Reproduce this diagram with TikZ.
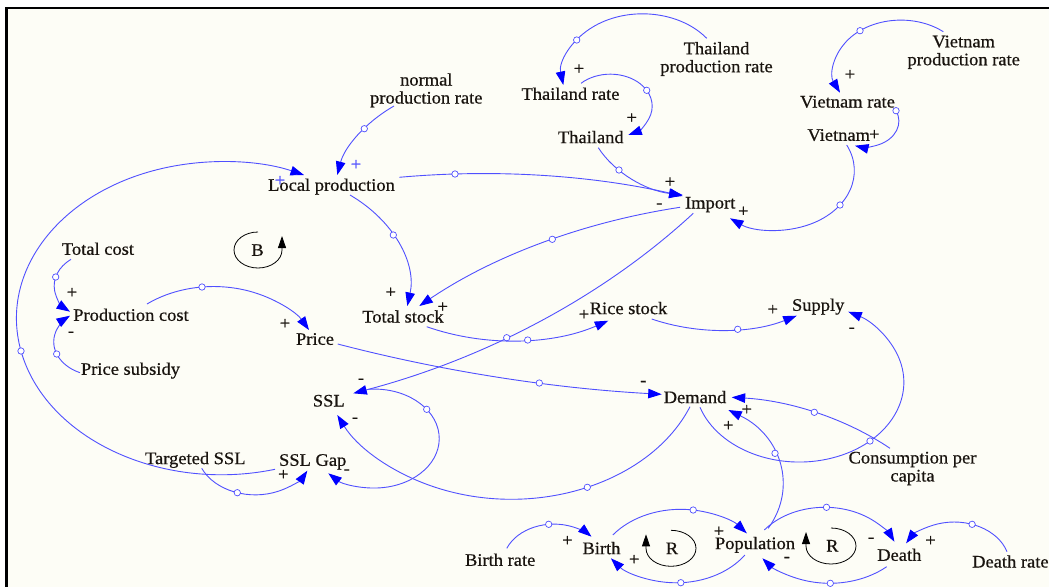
\documentclass[tikz,border=0pt]{standalone}
\usepackage{fontspec}
\setmainfont{Liberation Serif}[FakeStretch=1.05,FakeBold=0.6]
\usetikzlibrary{calc,arrows.meta}
\definecolor{linkc}{RGB}{80,80,255}
\definecolor{arrowc}{RGB}{0,0,255}
\definecolor{txtc}{RGB}{25,20,15}
\definecolor{bgc}{RGB}{253,253,246}
\newcommand\lblfont{\fontsize{17.6pt}{18pt}\selectfont}
\makeatletter
\newcommand\vgetxy[3]{\pgfpointanchor{#1}{center}\edef#2{\strip@pt\pgf@x}\edef#3{\strip@pt\pgf@y}}
\makeatother
\def\vk{1.31}
% circular arc (in a frame stretched horizontally by \vk) through start, handle, end
\newcommand\vcalc[3]{%
  \path #1 coordinate (vA) #2 coordinate (vH) #3 coordinate (vB);
  \vgetxy{vA}\vXa\vYa\vgetxy{vH}\vXh\vYh\vgetxy{vB}\vXb\vYb
  \edef\vXa{\fpeval{(\vXa)/\vk}}%
  \edef\vXh{\fpeval{(\vXh)/\vk}}%
  \edef\vXb{\fpeval{(\vXb)/\vk}}%
  \edef\vD{\fpeval{2*((\vXa)*((\vYh)-(\vYb))+(\vXh)*((\vYb)-(\vYa))+(\vXb)*((\vYa)-(\vYh)))}}%
  \edef\vSa{\fpeval{(\vXa)^2+(\vYa)^2}}%
  \edef\vSh{\fpeval{(\vXh)^2+(\vYh)^2}}%
  \edef\vSb{\fpeval{(\vXb)^2+(\vYb)^2}}%
  \edef\vUx{\fpeval{((\vSa)*((\vYh)-(\vYb))+(\vSh)*((\vYb)-(\vYa))+(\vSb)*((\vYa)-(\vYh)))/(\vD)}}%
  \edef\vUy{\fpeval{((\vSa)*((\vXb)-(\vXh))+(\vSh)*((\vXa)-(\vXb))+(\vSb)*((\vXh)-(\vXa)))/(\vD)}}%
  \edef\vR{\fpeval{round(sqrt(((\vXa)-(\vUx))^2+((\vYa)-(\vUy))^2),3)}}%
  \edef\vRx{\fpeval{round((\vR)*\vk,3)}}%
  \edef\vAa{\fpeval{atand((\vYa)-(\vUy),(\vXa)-(\vUx))}}%
  \edef\vAb{\fpeval{atand((\vYb)-(\vUy),(\vXb)-(\vUx))}}%
  \edef\vCr{\fpeval{((\vXh)-(\vXa))*((\vYb)-(\vYa))-((\vYh)-(\vYa))*((\vXb)-(\vXa))}}%
  \edef\vDel{\fpeval{round(((\vCr)>0 ? (((\vAb)-(\vAa))-360*floor(((\vAb)-(\vAa))/360)) : (-(((\vAa)-(\vAb))-360*floor(((\vAa)-(\vAb))/360)))),3)}}%
  \edef\vAa{\fpeval{round(\vAa,3)}}%
}
\newcommand\vlinknc[3]{\vcalc{#1}{#2}{#3}%
  \draw[link] (vA) arc[start angle=\vAa, delta angle=\vDel, x radius=\vRx pt, y radius=\vR pt];}
\newcommand\vlink[3]{\vlinknc{#1}{#2}{#3}\filldraw[handlec] (vH) circle[radius=3.2pt];}
\tikzset{
  lbl/.style={text=txtc, inner sep=0pt, text height=11.6pt, text depth=0pt, font=\lblfont},
  lbltwo/.style={text=txtc, inner sep=0pt, align=center, font=\lblfont},
  pol/.style={text=txtc, inner sep=0pt, font=\lblfont},
  polb/.style={text=linkc, inner sep=0pt, font=\lblfont},
  link/.style={draw=linkc, line width=0.9pt, -{Triangle[length=13.5pt,width=9.5pt,color=arrowc]}},
  handlec/.style={draw=linkc, fill=white, line width=0.7pt},
  loopsym/.style={draw=black, line width=0.8pt, -{Triangle[length=12pt,width=8pt,color=black]}}
}
\begin{document}
\begin{tikzpicture}[x=1pt,y=-1pt]
\useasboundingbox (0,0) rectangle (1049,587);
\fill[white] (0,0) rectangle (1049,587);
\fill[bgc] (6,8) rectangle (1049,587);
\draw[black, line width=2pt] (5,8) -- (1049,8);
\draw[black, line width=3pt] (6.5,7) -- (6.5,587);

% variables
\node[lbltwo] (npr) at (426.3,90.3) {normal\\production rate};
\node[lbltwo] (tpr) at (716.5,59) {Thailand\\production rate};
\node[lbltwo] (vpr) at (963.7,52.3) {Vietnam\\production rate};
\node[lbltwo] (cpc) at (912.5,468.5) {Consumption per\\capita};
\node[lbl] (lp) at (331.5,185) {Local production};
\node[lbl] (imp) at (710.2,202.7) {Import};
\node[lbl] (trate) at (570.5,94) {Thailand rate};
\node[lbl] (thai) at (590.8,137.3) {Thailand};
\node[lbl] (vrate) at (847.5,101.7) {Vietnam rate};
\node[lbl] (viet) at (838.7,135) {Vietnam};
\node[lbl] (tcost) at (98,249) {Total cost};
\node[lbl] (pcost) at (131,315) {Production cost};
\node[lbl] (price) at (315,339) {Price};
\node[lbl] (psub) at (130.5,369) {Price subsidy};
\node[lbl] (tstock) at (403,316.7) {Total stock};
\node[lbl] (rstock) at (628.5,308.3) {Rice stock};
\node[lbl] (supply) at (818.2,305) {Supply};
\node[lbl] (demand) at (695,397.3) {Demand};
\node[lbl] (ssl) at (328.8,400.7) {SSL};
\node[lbl] (tssl) at (195.3,458.3) {Targeted SSL};
\node[lbl] (gap) at (312.7,460) {SSL Gap};
\node[lbl] (brate) at (500.2,560) {Birth rate};
\node[lbl] (birth) at (601.5,548.3) {Birth};
\node[lbl] (pop) at (755,543.3) {Population};
\node[lbl] (death) at (899.3,555) {Death};
\node[lbl] (drate) at (1010.4,561.7) {Death rate};

% loop symbols
\node[lbl] (loopB) at (257.5,250) {B};
\node[lbl] (loopR1) at (672,548.3) {R};
\node[lbl] (loopR2) at (832.3,545.7) {R};
\draw[loopsym] (258,232) arc[start angle=90, end angle=360, x radius=24pt, y radius=18pt] -- ++(0,-14);
\draw[loopsym] (671,530.3) arc[start angle=90, end angle=-180, x radius=25pt, y radius=18pt] -- ++(0,-14);
\draw[loopsym] (831,528) arc[start angle=90, end angle=-180, x radius=25pt, y radius=18pt] -- ++(0,-14);

% links
\vlink{($(npr)+(-32.3,15.7)$)}{(364.3,128.7)}{($(lp)+(5.8,-10)$)}
\vlink{($(lp)+(67.8,-7.7)$)}{(455,174)}{($(imp)+(-27.5,-6.7)$)}
\vlink{($(thai)+(7.5,10.4)$)}{(619,170)}{($(imp)+(-27.5,-7.7)$)}
\vlink{($(trate)+(10.5,-10.7)$)}{(646.7,90.3)}{($(thai)+(37.5,-2.3)$)}
\vlink{($(tpr)+(-9.8,-20.7)$)}{(576.7,40)}{($(trate)+(-7.2,-9)$)}
\vlink{($(vpr)+(-20.4,-20.6)$)}{(860,30.7)}{($(vrate)+(-7.5,-9)$)}
\vlinknc{($(vrate)+(48.5,9)$)}{(898.5,125)}{($(viet)+(16.3,10.7)$)}
\filldraw[handlec] (vA) circle[radius=3.2pt];
\vlink{($(viet)+(8,10)$)}{(840,205)}{($(imp)+(19.8,15.6)$)}
\vlink{($(lp)+(18.5,10)$)}{(393.3,235)}{($(tstock)+(4.3,-10.7)$)}
\vlink{($(imp)+(-30.2,4.6)$)}{(552.3,239.3)}{($(tstock)+(16.3,-10.7)$)}
\vlink{($(imp)+(-16.9,10.6)$)}{(506.7,337.7)}{($(ssl)+(24.5,-7.4)$)}
\vlink{($(tstock)+(23.7,10)$)}{(527.7,340)}{($(rstock)+(-20.2,12.4)$)}
\vlink{($(rstock)+(23.2,10.7)$)}{(737.7,329.3)}{($(supply)+(-21.5,10.7)$)}
\vlink{($(demand)+(5,10)$)}{(870,441)}{($(supply)+(30.1,6.7)$)}
\vlink{($(cpc)+(-22.5,-20.2)$)}{(814.3,412.3)}{($(demand)+(36.7,0)$)}
\vlink{($(pop)+(13.2,-15)$)}{(775,453.3)}{($(demand)+(33.3,12.7)$)}
\vlink{($(price)+(22.7,5)$)}{(539.3,383)}{($(demand)+(-33.3,-3)$)}
\vlink{($(demand)+(-5,9.4)$)}{(587.3,487.3)}{($(ssl)+(8.5,14.3)$)}
\vlink{($(ssl)+(39.5,-11.4)$)}{(426.7,409.3)}{($(gap)+(15.6,13.3)$)}
\vlink{($(tssl)+(6.4,10)$)}{(237.3,492.7)}{($(gap)+(-5.4,10.7)$)}
\vlink{($(gap)+(-37.7,9.3)$)}{(21,351)}{($(lp)+(-27.5,-10)$)}
\vlink{($(tcost)+(-27,10.3)$)}{(55.7,277)}{($(pcost)+(-61,-3.3)$)}
\vlink{($(psub)+(-50.5,3.7)$)}{(56.7,354)}{($(pcost)+(-61,0.7)$)}
\vlink{($(pcost)+(16,-11)$)}{(202,287)}{($(price)+(-6,-9)$)}
\vlink{($(brate)+(6.6,-11.7)$)}{(548.7,524.3)}{($(birth)+(-10,-11.6)$)}
\vlink{($(birth)+(11.3,-13.3)$)}{(693.2,510)}{($(pop)+(-8.2,-10)$)}
\vlink{($(pop)+(-10.1,11.7)$)}{(680.8,582.7)}{($(birth)+(9.4,10)$)}
\vlink{($(pop)+(9.3,-13.3)$)}{(826.5,507.3)}{($(death)+(-4.9,-13.3)$)}
\vlink{($(death)+(-12.6,11.7)$)}{(830.3,583.3)}{($(pop)+(7.4,15)$)}
\vlink{($(drate)+(-3.4,-10)$)}{(972.1,524.3)}{($(death)+(6.8,-11.7)$)}

% polarities
\node[polb] (p1) at (356,165) {+};
\node[polb] (p2) at (280,181) {+};
\node[pol] (p3) at (670,182.3) {+};
\node[pol] (p4) at (631.7,118.3) {+};
\node[pol] (p5) at (579,69.3) {+};
\node[pol] (p6) at (850,75) {+};
\node[pol] (p7) at (874.3,135) {+};
\node[pol] (p8) at (743.3,211.7) {+};
\node[pol] (p9) at (659.3,205.7) {-};
\node[pol] (p10) at (390.7,292.7) {+};
\node[pol] (p11) at (442.7,307.3) {+};
\node[pol] (p12) at (361,381) {-};
\node[pol] (p13) at (584,315) {+};
\node[pol] (p14) at (772.7,310) {+};
\node[pol] (p15) at (851.7,330) {-};
\node[pol] (p16) at (746.7,410) {+};
\node[pol] (p17) at (728.3,426) {+};
\node[pol] (p18) at (643.3,383.3) {-};
\node[pol] (p19) at (355,420) {-};
\node[pol] (p20) at (346.7,471.7) {-};
\node[pol] (p21) at (283.3,475) {+};
\node[pol] (p22) at (72,293) {+};
\node[pol] (p23) at (71,334) {-};
\node[pol] (p24) at (285,324) {+};
\node[pol] (p25) at (567.4,541) {+};
\node[pol] (p26) at (718.9,531.7) {+};
\node[pol] (p27) at (634.2,560) {+};
\node[pol] (p28) at (871.1,540) {-};
\node[pol] (p29) at (786.8,559.3) {-};
\node[pol] (p30) at (930.5,541) {+};
\end{tikzpicture}
\end{document}
